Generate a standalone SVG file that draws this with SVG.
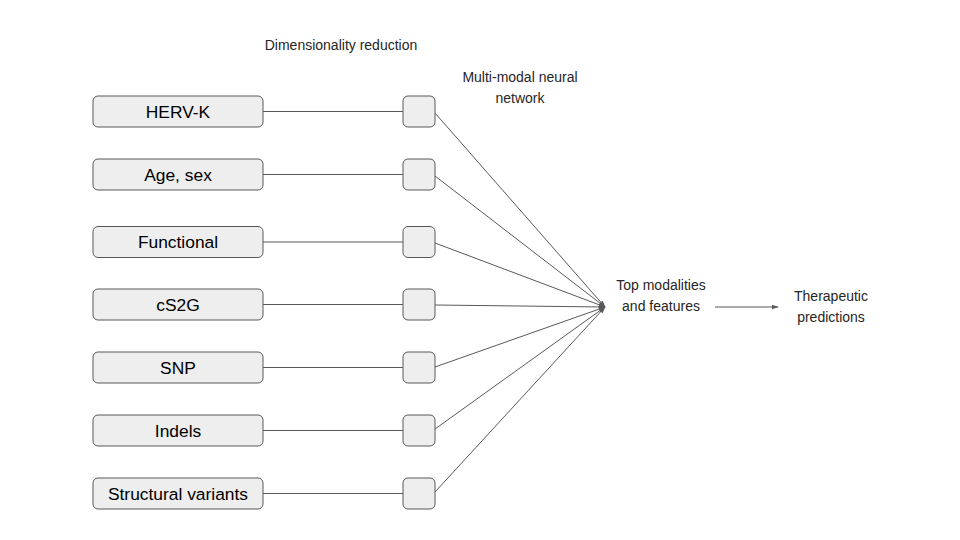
<svg xmlns="http://www.w3.org/2000/svg" width="960" height="540" viewBox="0 0 960 540">
<defs>
<style>
.box{fill:#eeeeee;stroke:#595959;stroke-width:1}
.lbl{font-family:"Liberation Sans",Arial,sans-serif;font-size:17.4px;fill:#000;text-anchor:middle;dominant-baseline:central}
.t{font-family:"Liberation Sans",Arial,sans-serif;font-size:14px;fill:#262626;text-anchor:middle}
.c{stroke:#595959;stroke-width:1;fill:none}
</style>
<marker id="ah" viewBox="0 0 10 10" refX="9" refY="5" markerWidth="7" markerHeight="7" markerUnits="userSpaceOnUse" orient="auto">
<path d="M0,1.5 L10,5 L0,8.5 z" fill="#595959"/>
</marker>
</defs>
<rect width="960" height="540" fill="#ffffff"/>
<g id="connectors">
<line class="c" x1="263" y1="111.5" x2="403" y2="111.5"/>
<line class="c" x1="263" y1="174.5" x2="403" y2="174.5"/>
<line class="c" x1="263" y1="242" x2="403" y2="242"/>
<line class="c" x1="263" y1="304.5" x2="403" y2="304.5"/>
<line class="c" x1="263" y1="367.5" x2="403" y2="367.5"/>
<line class="c" x1="263" y1="430.5" x2="403" y2="430.5"/>
<line class="c" x1="263" y1="493.5" x2="403" y2="493.5"/>
<line class="c" x1="435" y1="113" x2="605" y2="307" marker-end="url(#ah)"/>
<line class="c" x1="435" y1="176" x2="605" y2="307" marker-end="url(#ah)"/>
<line class="c" x1="435" y1="243" x2="605" y2="307" marker-end="url(#ah)"/>
<line class="c" x1="435" y1="305" x2="605" y2="307" marker-end="url(#ah)"/>
<line class="c" x1="435" y1="367" x2="605" y2="307" marker-end="url(#ah)"/>
<line class="c" x1="435" y1="429" x2="605" y2="307" marker-end="url(#ah)"/>
<line class="c" x1="435" y1="492" x2="605" y2="307" marker-end="url(#ah)"/>
<line class="c" x1="715" y1="307" x2="778" y2="307" marker-end="url(#ah)"/>
</g>
<g id="n-hervk"><rect class="box" x="93" y="96" width="170" height="31" rx="5"/><text class="lbl" x="178" y="111.5">HERV-K</text></g>
<g id="n-agesex"><rect class="box" x="93" y="159" width="170" height="31" rx="5"/><text class="lbl" x="178" y="174.5">Age, sex</text></g>
<g id="n-functional"><rect class="box" x="93" y="226.5" width="170" height="31" rx="5"/><text class="lbl" x="178" y="242">Functional</text></g>
<g id="n-cs2g"><rect class="box" x="93" y="289" width="170" height="31" rx="5"/><text class="lbl" x="178" y="304.5">cS2G</text></g>
<g id="n-snp"><rect class="box" x="93" y="352" width="170" height="31" rx="5"/><text class="lbl" x="178" y="367.5">SNP</text></g>
<g id="n-indels"><rect class="box" x="93" y="415" width="170" height="31" rx="5"/><text class="lbl" x="178" y="430.5">Indels</text></g>
<g id="n-sv"><rect class="box" x="93" y="478" width="170" height="31" rx="5"/><text class="lbl" x="178" y="493.5">Structural variants</text></g>
<g id="r1"><rect class="box" x="403" y="96" width="32" height="31" rx="5"/></g>
<g id="r2"><rect class="box" x="403" y="159" width="32" height="31" rx="5"/></g>
<g id="r3"><rect class="box" x="403" y="226.5" width="32" height="31" rx="5"/></g>
<g id="r4"><rect class="box" x="403" y="289" width="32" height="31" rx="5"/></g>
<g id="r5"><rect class="box" x="403" y="352" width="32" height="31" rx="5"/></g>
<g id="r6"><rect class="box" x="403" y="415" width="32" height="31" rx="5"/></g>
<g id="r7"><rect class="box" x="403" y="478" width="32" height="31" rx="5"/></g>
<g id="lbl-dim"><text class="t" x="341" y="50">Dimensionality reduction</text></g>
<g id="lbl-mm"><text class="t" x="520" y="82">Multi-modal neural</text><text class="t" x="520" y="103">network</text></g>
<g id="n-top"><text class="t" x="661" y="290">Top modalities</text><text class="t" x="661" y="311">and features</text></g>
<g id="n-ther"><text class="t" x="831" y="301">Therapeutic</text><text class="t" x="831" y="322">predictions</text></g>
</svg>
